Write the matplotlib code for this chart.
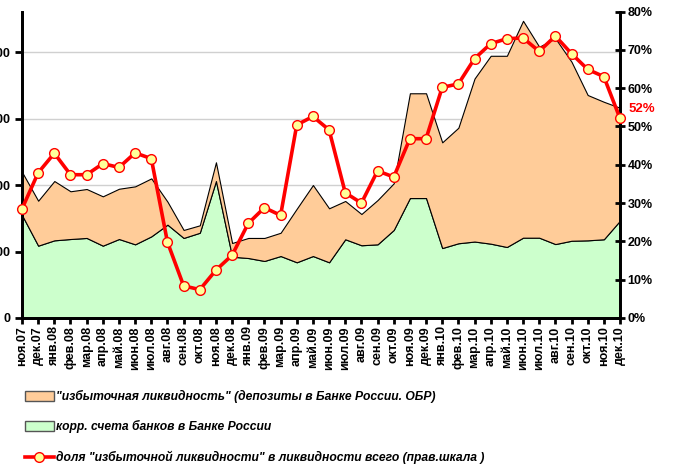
import matplotlib
matplotlib.use("Agg")
import matplotlib.pyplot as plt
from matplotlib.patches import Patch
from matplotlib.lines import Line2D

plt.rcParams['font.family'] = ['Liberation Sans', 'DejaVu Sans']

# месяцы
months = ["ноя.07", "дек.07",
          "янв.08", "фев.08", "мар.08", "апр.08", "май.08", "июн.08",
          "июл.08", "авг.08", "сен.08", "окт.08", "ноя.08", "дек.08",
          "янв.09", "фев.09", "мар.09", "апр.09", "май.09", "июн.09",
          "июл.09", "авг.09", "сен.09", "окт.09", "ноя.09", "дек.09",
          "янв.10", "фев.10", "мар.10", "апр.10", "май.10", "июн.10",
          "июл.10", "авг.10", "сен.10", "окт.10", "ноя.10", "дек.10"]

# корр. счета банков в Банке России (млрд руб., левая шкала)
corr = [774, 544, 584, 594, 602, 544, 594, 554, 614, 702,
        602, 641, 1030, 461, 451, 429, 466, 419, 466, 419,
        592, 547, 554, 662, 902, 902, 526, 562, 575, 559,
        534, 604, 604, 556, 581, 584, 592, 732]

# депозиты в Банке России и ОБР
deposits = [324, 338, 446, 359, 368, 371, 378, 436, 436, 173,
            60, 56, 141, 103, 151, 173, 175, 403, 534, 406,
            288, 235, 333, 351, 788, 788, 795, 869, 1226, 1413,
            1438, 1631, 1436, 1547, 1346, 1093, 1034, 849]

# доля избыточной ликвидности, %
share = [28.5, 37.9, 43.0, 37.4, 37.4, 40.3, 39.3, 43.1, 41.6, 19.8,
         8.4, 7.4, 12.5, 16.4, 24.7, 28.8, 26.8, 50.4, 52.6, 49.1,
         32.7, 30.0, 38.4, 36.8, 46.8, 46.8, 60.2, 61.1, 67.7, 71.6,
         72.9, 73.1, 69.6, 73.6, 69.0, 64.9, 63.0, 52.1]

left_ticks = [0, 500, 1000, 1500, 2000]
right_ticks = [0, 10, 20, 30, 40, 50, 60, 70, 80]

x = list(range(len(months)))

fig = plt.figure(figsize=(6.73, 4.67), dpi=100)
ax = fig.add_axes([22 / 673, 1 - 318 / 467, 598 / 673, 306.5 / 467])

ax.stackplot(x, corr, deposits, colors=['#CCFFCC', '#FFCC99'],
             edgecolor='black', linewidth=0.8)
ax.set_xlim(0, len(months) - 1)
ax.set_ylim(0, 2305)
ax.set_yticks(left_ticks)
ax.set_yticklabels([str(t) for t in left_ticks])
ax.grid(axis='y', color='#D0D0D0', linewidth=1)
ax.set_axisbelow(True)
ax.set_xticks(x)
ax.set_xticklabels(months, rotation=90, fontsize=9, fontweight='bold')
ax.tick_params(axis='y', labelsize=9, width=2, length=5, direction='out')
ax.tick_params(axis='x', width=2, length=4, direction='out', pad=2)
for lab in ax.get_yticklabels():
    lab.set_fontweight('bold')

ax2 = ax.twinx()
ax2.plot(x, share, color='red', linewidth=2.6, marker='o', markersize=7,
         markerfacecolor='#FFFF99', markeredgecolor='red', markeredgewidth=1,
         clip_on=False, zorder=5)
ax2.set_ylim(0, 80)
ax2.set_yticks(right_ticks)
ax2.set_yticklabels([f"{t}%" for t in right_ticks])
ax2.tick_params(axis='y', labelsize=9, width=2, length=7, direction='inout', pad=2)
for lab in ax2.get_yticklabels():
    lab.set_fontweight('bold')
ax2.annotate(f"{round(share[-1])}%", xy=(x[-1], share[-1]), xytext=(6, 7),
             textcoords='offset points', color='red', fontsize=9.5,
             fontweight='bold', ha='left', va='center', annotation_clip=False)

for a in (ax, ax2):
    a.spines['top'].set_visible(False)
    for s in ('left', 'right', 'bottom'):
        a.spines[s].set_linewidth(2)

handles = [Patch(facecolor='#FFCC99', edgecolor='#555555'),
           Patch(facecolor='#CCFFCC', edgecolor='#555555'),
           Line2D([], [], color='red', linewidth=2.6, marker='o', markersize=7,
                  markerfacecolor='#FFFF99', markeredgecolor='red')]
labels = ['"избыточная ликвидность" (депозиты в Банке России. ОБР)',
          'корр. счета банков в Банке России',
          'доля "избыточной ликвидности" в ликвидности всего (прав.шкала )']
fig.legend(handles, labels, loc='upper left', bbox_to_anchor=(14 / 673, 1 - 379 / 467),
           frameon=False, handlelength=2.4, handleheight=0.9, handletextpad=0.2,
           labelspacing=1.45, prop={'size': 8.7, 'weight': 'bold', 'style': 'italic'})

fig.savefig("out.png", dpi=100)
